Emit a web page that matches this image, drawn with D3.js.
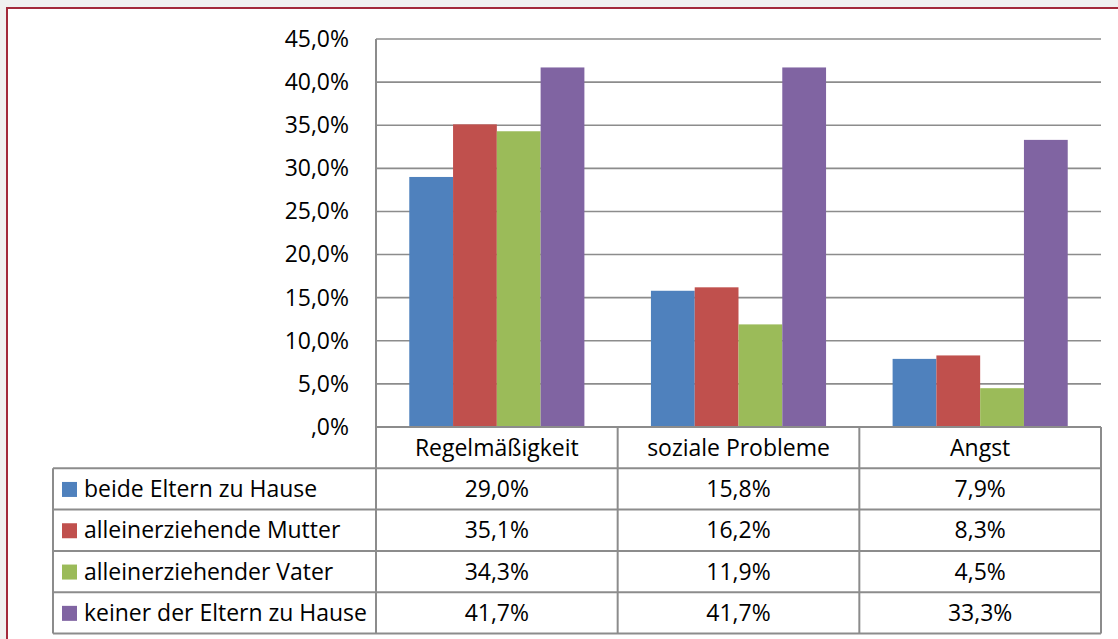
<!DOCTYPE html>
<html>
<head>
<meta charset="utf-8">
<script src="https://cdn.jsdelivr.net/npm/d3@7"></script>
<style>
  html, body { margin: 0; padding: 0; background: #f0f0f0; }
  svg { display: block; }
  text { font-family: "Open Sans", Lato, sans-serif; fill: #000; }
</style>
</head>
<body>
<svg id="chart" width="1118" height="639"></svg>
<script>
// Categories, series and values (percent)
const categories = ["Regelmäßigkeit", "soziale Probleme", "Angst"];
const seriesNames = [
  "beide Eltern zu Hause",
  "alleinerziehende Mutter",
  "alleinerziehender Vater",
  "keiner der Eltern zu Hause"
];
const seriesColors = ["#4f81bd", "#c0504d", "#9bbb59", "#8064a2"];
const beideEltern = [29.0, 15.8, 7.9];
const alleinMutter = [35.1, 16.2, 8.3];
const alleinVater = [34.3, 11.9, 4.5];
const keinerEltern = [41.7, 41.7, 33.3];
const seriesValues = [beideEltern, alleinMutter, alleinVater, keinerEltern];
const yTicks = [0, 5, 10, 15, 20, 25, 30, 35, 40, 45];

const fmtPct = v => d3.format(".1f")(v).replace(".", ",") + "%";
const fmtTick = v => (v === 0 ? ",0" : d3.format(".1f")(v).replace(".", ",")) + "%";

const svg = d3.select("#chart");

// font size: fit the longest legend label into its column
const probe = svg.append("text").attr("font-size", 20).text(seriesNames[3]);
const fs = Math.min(24, 20 * 283 / probe.node().getComputedTextLength());
probe.remove();

// chart frame
svg.append("rect").attr("x", 7).attr("y", 8).attr("width", 1130).attr("height", 660)
  .attr("fill", "#fff").attr("stroke", "#a3293b").attr("stroke-width", 2);

const plot = { left: 376, right: 1101, top: 39, bottom: 427 };
const tableLeft = 53, rowH = 41.3;

const y = d3.scaleLinear().domain([0, 45]).range([plot.bottom, plot.top]);
const x0 = d3.scaleBand().domain(categories).range([plot.left, plot.right]).paddingInner(0).paddingOuter(0);
const x1 = d3.scaleBand().domain(d3.range(seriesNames.length))
  .range([0, x0.bandwidth()]).paddingInner(0).paddingOuter(0.76);

const grid = "#8c8c8c";

// horizontal gridlines
svg.append("g").selectAll("line").data(yTicks.filter(t => t > 0)).join("line")
  .attr("x1", plot.left).attr("x2", plot.right)
  .attr("y1", d => y(d)).attr("y2", d => y(d))
  .attr("stroke", grid).attr("stroke-width", 1.6);

// y axis labels
const yAxis = d3.axisLeft(y).tickValues(yTicks).tickFormat(fmtTick).tickSize(0).tickPadding(0);
const ya = svg.append("g").attr("transform", `translate(${plot.left - 27},0)`).call(yAxis);
ya.select(".domain").remove();
ya.selectAll("text").attr("font-family", "'Open Sans', sans-serif").attr("font-size", fs).attr("fill", "#000");

// bars
svg.append("g").selectAll("g").data(seriesValues).join("g")
  .attr("fill", (d, i) => seriesColors[i])
  .each(function (vals, si) {
    d3.select(this).selectAll("rect").data(vals).join("rect")
      .attr("x", (v, ci) => x0(categories[ci]) + x1(si))
      .attr("width", x1.bandwidth())
      .attr("y", v => y(v))
      .attr("height", v => y(0) - y(v));
  });

// vertical axis line
svg.append("line").attr("x1", plot.left).attr("x2", plot.left)
  .attr("y1", plot.top).attr("y2", plot.bottom + rowH * 5)
  .attr("stroke", grid).attr("stroke-width", 2);

// data table
const tbl = svg.append("g");
const tableBottom = plot.bottom + rowH * 5;
// header row
tbl.append("line").attr("x1", plot.left).attr("x2", plot.right)
  .attr("y1", plot.bottom).attr("y2", plot.bottom).attr("stroke", grid).attr("stroke-width", 2);
categories.forEach((c, i) => {
  tbl.append("line").attr("x1", x0(c) + x0.bandwidth()).attr("x2", x0(c) + x0.bandwidth())
    .attr("y1", plot.bottom).attr("y2", tableBottom).attr("stroke", grid).attr("stroke-width", 2);
  tbl.append("text").attr("x", x0(c) + x0.bandwidth() / 2).attr("y", plot.bottom + rowH / 2)
    .attr("dy", "0.35em").attr("text-anchor", "middle").attr("font-size", fs).text(c);
});
// series rows
seriesNames.forEach((s, si) => {
  const top = plot.bottom + rowH * (si + 1);
  tbl.append("line").attr("x1", tableLeft).attr("x2", plot.right)
    .attr("y1", top).attr("y2", top).attr("stroke", grid).attr("stroke-width", 2);
  tbl.append("rect").attr("x", 62).attr("y", top + rowH / 2 - 7).attr("width", 15).attr("height", 15)
    .attr("fill", seriesColors[si]);
  tbl.append("text").attr("x", 84).attr("y", top + rowH / 2).attr("dy", "0.35em")
    .attr("font-size", fs).text(s);
  seriesValues[si].forEach((v, ci) => {
    tbl.append("text").attr("x", x0(categories[ci]) + x0.bandwidth() / 2).attr("y", top + rowH / 2)
      .attr("dy", "0.35em").attr("text-anchor", "middle").attr("font-size", fs).text(fmtPct(v));
  });
});
tbl.append("line").attr("x1", tableLeft).attr("x2", plot.right)
  .attr("y1", tableBottom).attr("y2", tableBottom).attr("stroke", grid).attr("stroke-width", 2);
tbl.append("line").attr("x1", tableLeft).attr("x2", tableLeft)
  .attr("y1", plot.bottom + rowH).attr("y2", tableBottom).attr("stroke", grid).attr("stroke-width", 2);
</script>
</body>
</html>
